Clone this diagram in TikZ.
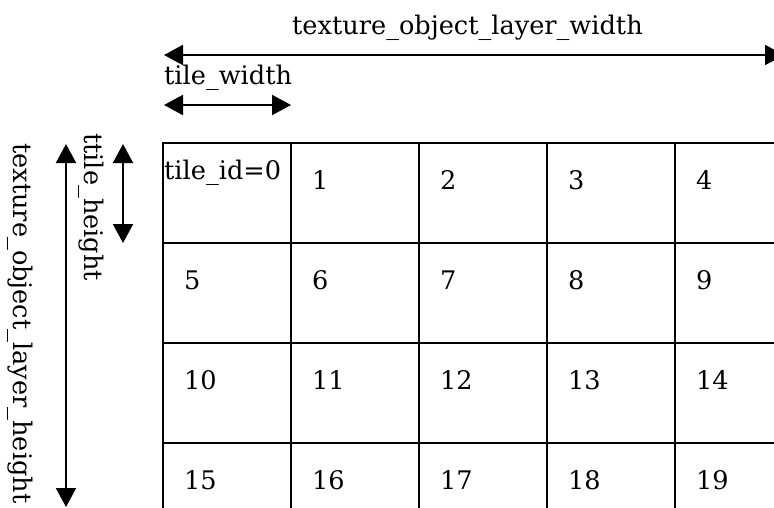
\documentclass[tikz,border=0pt]{standalone}
\usepackage{fontspec}
\setmainfont{DejaVu Serif}
\usetikzlibrary{arrows.meta}
\begin{document}
\begin{tikzpicture}[x=1pt,y=-1pt,
  gridline/.style={line width=2pt,black},
  dimarrow/.style={line width=2pt,{Triangle[length=19pt,width=20pt]}-{Triangle[length=19pt,width=20pt]}},
  lbl/.style={inner sep=0pt,font=\fontsize{25.6}{28}\selectfont},
]
\useasboundingbox (0,0) rectangle (774,507);
\clip (0,0) rectangle (774,507);
\fill[white] (0,0) rectangle (774,507);
% grid
\foreach \x in {163,291,419,547,675} \draw[gridline] (\x,143) -- (\x,515);
\foreach \y in {143,243,343,443} \draw[gridline] (162,\y) -- (780,\y);
% cell labels
\node[lbl,anchor=base west] (t0) at (164,179) {tile\_id=0};
\foreach \r in {0,...,3} {
  \foreach \c in {0,...,4} {
    \pgfmathtruncatemacro\n{5*\r+\c}
    \ifnum\n>0
      \node[lbl,anchor=base west] (t\n) at ({163+128*\c+21},{143+100*\r+46}) {\n};
    \fi
  }
}
% dimension labels
\node[lbl,anchor=base west] (lw) at (292,34) {texture\_object\_layer\_width};
\node[lbl,anchor=base west] (tw) at (164,84) {tile\_width};
\node[lbl,anchor=base west,rotate=-90] (lh) at (13,143) {texture\_object\_layer\_height};
\node[lbl,anchor=base west,rotate=-90] (th) at (84,133) {ttile\_height};
% dimension arrows
\coordinate (lwa) at (164,55);
\coordinate (lwb) at (784,55);
\coordinate (twa) at (164,105);
\coordinate (twb) at (291,105);
\coordinate (lha) at (66,144);
\coordinate (lhb) at (66,507);
\coordinate (tha) at (123,144);
\coordinate (thb) at (123,243);
\draw[dimarrow] (lwa) -- (lwb);
\draw[dimarrow] (twa) -- (twb);
\draw[dimarrow] (lha) -- (lhb);
\draw[dimarrow] (tha) -- (thb);
\end{tikzpicture}
\end{document}
